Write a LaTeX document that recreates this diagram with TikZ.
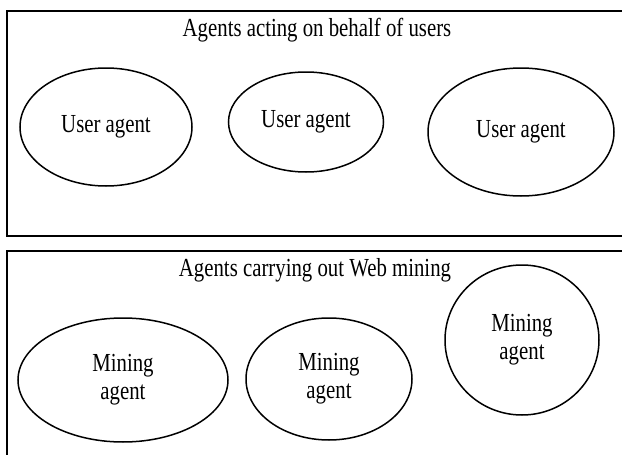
\documentclass[tikz,border=0pt]{standalone}
\usepackage{fontspec}
\setmainfont{Liberation Serif}[FakeStretch=0.8]
\usetikzlibrary{shapes.geometric}

\begin{document}
\begin{tikzpicture}[x=1pt,y=-1pt,
    panel/.style={line width=2pt},
    agent/.style={ellipse, draw, line width=1.5pt, inner sep=0pt, align=center},
    every node/.style={font=\fontsize{26}{28}\selectfont}]
    \useasboundingbox (0,0) rectangle (622,455);
    % upper panel: agents for users
    \draw [panel] (7,11) rectangle (640,236);
    \node (usertitle) at (317,30) {Agents acting on behalf of users};
    \node [agent, minimum width=172pt, minimum height=118pt] (user1) at (106,127) {User agent};
    \node [agent, minimum width=155pt, minimum height=100pt] (user2) at (306,122) {User agent};
    \node [agent, minimum width=186pt, minimum height=128pt] (user3) at (521,132) {User agent};
    % lower panel: mining agents
    \draw [panel] (7,251) rectangle (640,480);
    \node (minetitle) at (315,270) {Agents carrying out Web mining};
    \node [agent, minimum width=210pt, minimum height=124pt] (mine1) at (123,380) {Mining\\agent};
    \node [agent, minimum width=166pt, minimum height=122pt] (mine2) at (329,379) {Mining\\agent};
    \node [agent, minimum width=154pt, minimum height=150pt] (mine3) at (522,340) {Mining\\agent};
\end{tikzpicture}
\end{document}
